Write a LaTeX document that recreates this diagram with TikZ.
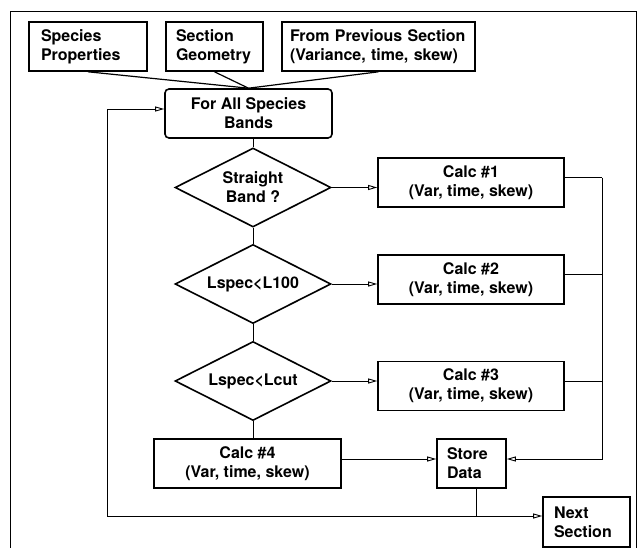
\documentclass[tikz,border=0pt]{standalone}
\usepackage{fontspec}
\setmainfont{TeX Gyre Heros}
\usetikzlibrary{shapes.geometric,arrows.meta}
\begin{document}
\begin{tikzpicture}[x=1pt,y=-1pt,
  txt/.style={font=\bfseries\fontsize{16}{19}\selectfont},
  box/.style={txt,draw,line width=1.6pt,inner ysep=0pt,minimum height=49pt},
  lbox/.style={box,align=left,inner xsep=10pt},
  cbox/.style={box,align=center,inner xsep=0pt},
  dia/.style={txt,draw,diamond,line width=1.6pt,inner sep=0pt,aspect=2,
    minimum width=156pt,minimum height=79pt,align=center},
  conn/.style={line width=0.9pt},
  arr/.style={conn,-{Triangle[open,length=9pt,width=5pt,line width=0.9pt]}}
]
\useasboundingbox (0,0) rectangle (639,548);
% frame
\draw[line width=0.8pt] (10.5,548) -- (10.5,11.5) -- (636.5,11.5) -- (636.5,548);
% top boxes
\node[lbox,inner xsep=12pt,text width=94pt] (sp) at (88,46.5) {Species\\Properties};
\node[lbox,text width=77pt] (sg) at (214.5,46.5) {Section\\Geometry};
\node[lbox,inner xsep=8pt,text width=177pt] (fp) at (378.5,46.5) {From Previous Section\\(Variance, time, skew)};
\node[cbox,rounded corners=4pt,minimum width=167pt] (fa) at (248.5,113.5) {For All Species\\Bands};
% decisions
\node[dia] (d1) at (253,187.5) {Straight\\Band ?};
\node[dia] (d2) at (253,284) {Lspec<L100};
\node[dia] (d3) at (253,381) {Lspec<Lcut};
% calcs
\node[cbox,minimum width=186pt] (c1) at (471,182.5) {Calc \#1\\(Var, time, skew)};
\node[cbox,minimum width=186pt] (c2) at (471,279.5) {Calc \#2\\(Var, time, skew)};
\node[cbox,minimum width=186pt] (c3) at (471,386) {Calc \#3\\(Var, time, skew)};
\node[cbox,minimum width=187pt] (c4) at (247.5,463.5) {Calc \#4\\(Var, time, skew)};
\node[lbox,text width=49pt] (sd) at (471.5,463.5) {Store\\Data};
\node[lbox,inner xsep=11pt,text width=65pt,minimum height=50pt] (ns) at (586.5,522) {Next\\Section};
% inputs converge
\draw[line width=1.2pt] (sp.south) -- (fa.north);
\draw[line width=1.2pt] (sg.south) -- (fa.north);
\draw[line width=1.2pt] (fp.south) -- (fa.north);
% main spine
\draw[conn] (d1.north |- fa.south) -- (d1.north);
\draw[conn] (d1.south) -- (d2.north);
\draw[conn] (d2.south) -- (d3.north);
\draw[conn] (d3.south) -- (d3.south |- c4.north);
% yes branches
\draw[arr] (d1.east) -- (d1.east -| c1.west);
\draw[arr] (d2.east) -- (d2.east -| c2.west);
\draw[arr] (d3.east) -- (d3.east -| c3.west);
% bus to store
\coordinate (bus) at (602,459);
\draw[conn] ([yshift=5pt]c1.east) -- ([yshift=5pt]c1.east -| bus);
\draw[conn] ([yshift=5pt]c2.east) -- ([yshift=5pt]c2.east -| bus);
\draw[conn] ([yshift=5pt]c3.east) -- ([yshift=5pt]c3.east -| bus);
\draw[arr] ([yshift=5pt]c1.east -| bus) -- (bus) -- (bus -| sd.east);
\draw[arr] (c4.east |- bus) -- (bus -| sd.west);
% loop
\coordinate (fb) at (107,516);
\draw[conn] ([xshift=4.5pt]sd.south) -- ([xshift=4.5pt]sd.south |- fb);
\draw[arr] (fb) -- (fb -| ns.west);
\draw[arr] (fb) |- ([yshift=4.5pt]fa.west);
\end{tikzpicture}
\end{document}
